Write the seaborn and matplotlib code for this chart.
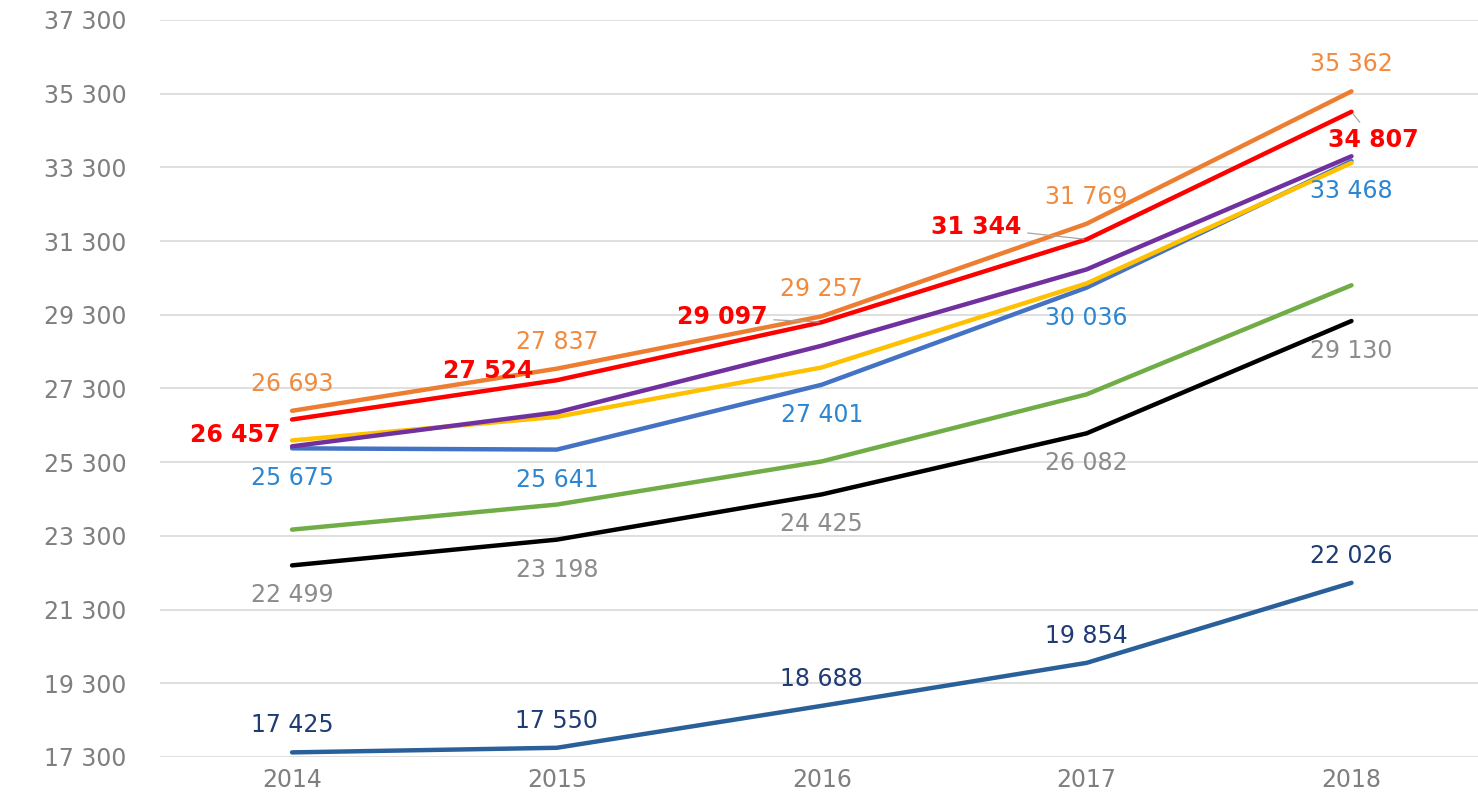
#  average wage by series, 2014-2018

import matplotlib
matplotlib.use('Agg')
import matplotlib.pyplot as plt
import seaborn as sns
import pandas as pd

years = [2014, 2015, 2016, 2017, 2018]

orange = [26693, 27837, 29257, 31769, 35362]
red = [26457, 27524, 29097, 31344, 34807]
purple = [25730, 26650, 28460, 30530, 33600]
yellow = [25890, 26530, 27870, 30150, 33420]
blue = [25675, 25641, 27401, 30036, 33468]
green = [23470, 24150, 25320, 27140, 30100]
black = [22499, 23198, 24425, 26082, 29130]
navy = [17425, 17550, 18688, 19854, 22026]

yticks = list(range(17300, 37301, 2000))


def fmt(v):
    return f'{v:,}'.replace(',', ' ')


series = {
    'navy': (navy, '#2A6099'),
    'black': (black, '#000000'),
    'green': (green, '#70AD47'),
    'blue': (blue, '#4472C4'),
    'yellow': (yellow, '#FFC000'),
    'purple': (purple, '#7030A0'),
    'red': (red, '#FF0000'),
    'orange': (orange, '#ED7D31'),
}

rows = []
for name, (vals, _) in series.items():
    for y, v in zip(years, vals):
        rows.append({'year': y, 'value': v, 'series': name})
df = pd.DataFrame(rows)
palette = {k: c for k, (_, c) in series.items()}

sns.set_style('white')
plt.rcParams['font.family'] = ['DejaVu Sans']

fig = plt.figure(figsize=(14.78, 7.96), dpi=100)
ax = fig.add_axes([0.108, 0.049, 0.896, 0.926])

sns.lineplot(data=df, x='year', y='value', hue='series', palette=palette,
             hue_order=list(series.keys()), linewidth=3.2, sort=False,
             legend=False, ax=ax)

fs = 17

ax.set_xlim(2013.5, 2018.5)
ax.set_ylim(17300, 37300)
ax.set_yticks(yticks)
ax.set_yticklabels([fmt(t) for t in yticks])
ax.set_xticks(years)
ax.set_xticklabels([str(y) for y in years])
ax.grid(axis='y', color='#D9D9D9', linewidth=1.2)
ax.set_axisbelow(True)
ax.tick_params(axis='y', length=0, pad=24, labelsize=fs, labelcolor='#7F7F7F')
ax.tick_params(axis='x', length=0, pad=8, labelsize=fs, labelcolor='#7F7F7F')
ax.set_xlabel('')
ax.set_ylabel('')
sns.despine(left=True, bottom=True)

# labels above the line
for vals, col in [(orange, '#F08A3E'), (navy, '#1F3B73')]:
    for y, v in zip(years, vals):
        ax.annotate(fmt(v), (y, v), xytext=(0, 27), textcoords='offset pixels',
                    ha='center', va='center', fontsize=fs, color=col)

# labels below the line
for vals, col in [(blue, '#2E86D0'), (black, '#8C8C8C')]:
    for y, v in zip(years, vals):
        ax.annotate(fmt(v), (y, v), xytext=(0, -30), textcoords='offset pixels',
                    ha='center', va='center', fontsize=fs, color=col)

# red labels, bold, beside the point with leader lines
red_off = [(-12, -15), (-24, 9), (-54, 5), (-65, 12), (22, -28)]
for i, (y, v) in enumerate(zip(years, red)):
    dx, dy = red_off[i]
    lead = dict(arrowstyle='-', color='#A6A6A6', lw=0.9) if i >= 2 else None
    ax.annotate(fmt(v), (y, v), xytext=(dx, dy), textcoords='offset pixels',
                ha='right' if dx < 0 else 'center', va='center', fontsize=fs,
                fontweight='bold', color='#FF0000', arrowprops=lead)

plt.savefig('out.png', dpi=100)
